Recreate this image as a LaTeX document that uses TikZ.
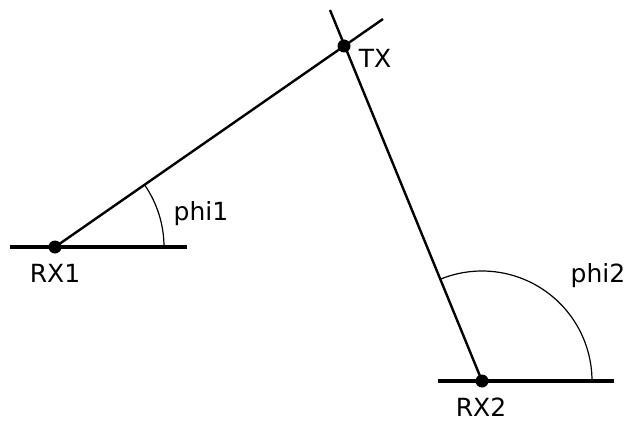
\documentclass[tikz,border=0pt]{standalone}
\usepackage{fontspec}
\setmainfont{DejaVu Sans}
\begin{document}
\begin{tikzpicture}[x=1pt,y=1pt,
  dot/.style={circle,fill=black,inner sep=0pt,minimum size=13pt},
  lbl/.style={font=\fontsize{25}{30}\selectfont,inner sep=0pt},
  ray/.style={line width=2.4pt},
  base/.style={line width=3.8pt},
  anglearc/.style={line width=1.2pt}]
\useasboundingbox (0,0) rectangle (628,426);
\node[dot] (rx1) at (55,179) {};
\node[dot] (tx) at (344,380) {};
\node[dot] (rx2) at (482,45) {};
\coordinate (b1l) at (10,179);
\coordinate (b1r) at (187,179);
\coordinate (b2l) at (438,45);
\coordinate (b2r) at (614,45);
\coordinate (e1) at (383,407);
\coordinate (e2) at (330,416);
\draw[base] (b1l) -- (b1r);
\draw[base] (b2l) -- (b2r);
\draw[ray] (rx1.center) -- (e1);
\draw[ray] (rx2.center) -- (e2);
\draw[anglearc] (164,179) arc[start angle=0,end angle=34.8,radius=109];
\draw[anglearc] (592,45) arc[start angle=0,end angle=112.4,radius=110];
\node[lbl] (l1) at (55,153) {RX1};
\node[lbl] (l2) at (375,368) {TX};
\node[lbl] (l3) at (201,212) {phi1};
\node[lbl] (l4) at (481,19) {RX2};
\node[lbl] (l5) at (598,150) {phi2};
\end{tikzpicture}
\end{document}
